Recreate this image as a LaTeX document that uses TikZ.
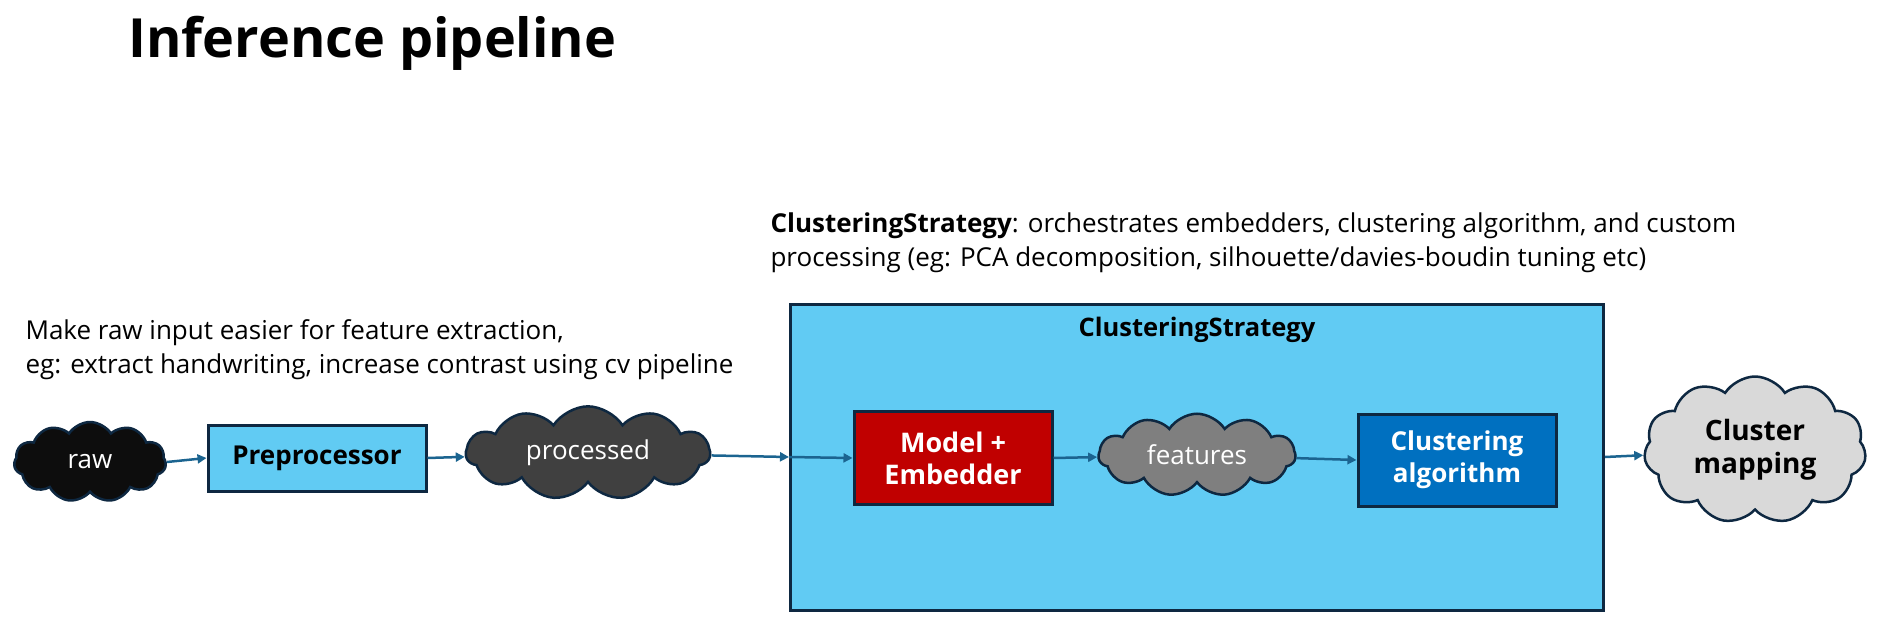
\documentclass[tikz,border=0pt]{standalone}
\usepackage{fontspec}
\setmainfont{Open Sans}
\usetikzlibrary{arrows.meta,positioning,shapes.symbols}
\definecolor{sky}{HTML}{61CBF3}
\definecolor{navy}{HTML}{0E2841}
\definecolor{link}{HTML}{1B6490}
\definecolor{crimson}{HTML}{C00000}
\definecolor{azure}{HTML}{0070C0}
\definecolor{ink}{HTML}{0D0D0D}
\definecolor{slate}{HTML}{404040}
\definecolor{ash}{HTML}{7F7F7F}
\definecolor{fog}{HTML}{D9D9D9}

\begin{document}
\begin{tikzpicture}[x=1pt,y=-1pt,>={Triangle[length=9pt,width=9pt]},
  box/.style={draw=navy,line width=3pt,align=center,font=\fontsize{26}{32}\selectfont\bfseries},
  puff/.style={cloud,cloud puffs=11,cloud puff arc=115,draw=navy,line width=2.5pt,inner sep=1pt,
    align=center,font=\fontsize{26}{30}\selectfont},
  flow/.style={->,link,line width=2.5pt},
  note/.style={anchor=base west,align=left,font=\fontsize{26}{34}\selectfont}]
\useasboundingbox (0,0) rectangle (1882,626);
\node[anchor=base west,font=\fontsize{54}{60}\selectfont\bfseries] (title) at (125,58) {Inference pipeline};

% notes (base = last line)
\node[note] (prenote) at (22,373) {Make raw input easier for feature extraction,\\eg: extract handwriting, increase contrast using cv pipeline};
\node[note] (stratnote) at (767,266) {\textbf{ClusteringStrategy}: orchestrates embedders, clustering algorithm, and custom\\processing (eg: PCA decomposition, silhouette/davies-boudin tuning etc)};

% outer strategy box
\node[box,fill=sky,minimum width=813pt,minimum height=306pt] (strat) at (1197,457) {};
\node[anchor=base,font=\fontsize{25.5}{30}\selectfont\bfseries] (strattitle) at (1197,336) {ClusteringStrategy};

\node[puff,aspect=1.6,fill=ink,text=white,minimum width=152pt,minimum height=80pt] (raw) at (90,462) {raw};
\node[box,fill=sky,minimum width=218pt,minimum height=66pt] (pre) at (317,458) {Preprocessor};
\node[puff,aspect=2.6,fill=slate,text=white,minimum width=244pt,minimum height=78pt] (proc) at (588,453) {processed};
\node[box,fill=crimson,text=white,minimum width=198pt,minimum height=93pt,font=\fontsize{27}{32}\selectfont\bfseries] (model) at (953,458) {Model +\\Embedder};
\node[puff,aspect=2.3,fill=ash,text=white,minimum width=197pt,minimum height=72pt] (feat) at (1197,455) {features};
\node[box,fill=azure,text=white,minimum width=198pt,minimum height=92pt] (algo) at (1457,460) {Clustering\\algorithm};
\node[puff,aspect=1.5,fill=fog,minimum width=222pt,minimum height=147pt,font=\fontsize{28}{33}\selectfont\bfseries] (map) at (1755,450) {Cluster\\mapping};

\draw[flow] (raw.east) -- (pre.west);
\draw[flow] (pre.east) -- (proc);
\draw[flow] (proc) -- (strat.west);
\draw[flow] (strat.west) -- (model.west);
\draw[flow] (model.east) -- (feat);
\draw[flow] (feat) -- (algo.west);
\draw[flow] (strat.east) -- (map);
\end{tikzpicture}
\end{document}
